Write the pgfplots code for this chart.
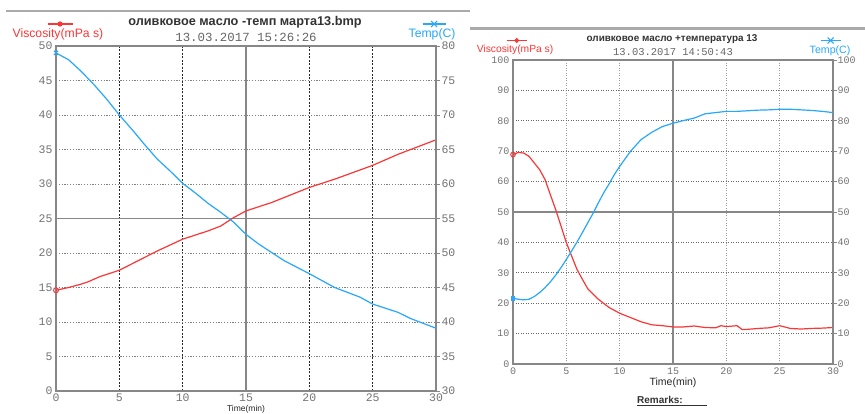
\documentclass[border=0pt]{standalone}
\usepackage{fontspec}
\setmainfont{Liberation Sans}
\setmonofont{Liberation Mono}
\usepackage{pgfplots}
\pgfplotsset{compat=1.18}
\definecolor{vred}{RGB}{250,55,55}
\definecolor{tblue}{RGB}{40,168,250}
\definecolor{axgray}{RGB}{135,135,135}
\definecolor{lblgray}{RGB}{115,115,115}
\definecolor{bargray}{RGB}{170,170,170}
\pgfplotsset{
  base/.style={scale only axis, anchor=south west, xmin=0, xmax=30,
    axis line style={axgray, line width=1.2pt},
    /pgf/number format/assume math mode=true,
    major tick length=0pt,
    legend style={draw=none, fill=none, inner sep=0pt, anchor=center,
      /tikz/every even column/.style={column sep=0pt},
      nodes={inner sep=0pt}},
  },
}
\begin{document}
\begin{tikzpicture}
\useasboundingbox (0pt,0pt) rectangle (865pt,414pt);
\clip (0pt,0pt) rectangle (865pt,414pt);
\fill[white] (0pt,0pt) rectangle (865pt,414pt);
% gray header bars
\fill[bargray] (6pt,401.5pt) rectangle (470pt,404pt);
\fill[bargray] (470pt,384pt) rectangle (865pt,386.5pt);

% ===== LEFT PANEL =====
\begin{axis}[base, at={(56pt,23pt)}, width=380pt, height=345pt,
  ymin=0, ymax=50, xtick={0,5,...,30}, ytick={0,5,...,50},
  xtick pos=bottom, ytick pos=left,
  tick label style={font=\ttfamily\fontsize{11.5}{12}\selectfont, text=lblgray},
  xticklabel style={yshift=1pt},
  grid=major,
  x grid style={black!85, dash pattern=on 2pt off 1.5pt, line width=0.6pt},
  y grid style={gray, dash pattern=on 1.2pt off 1.6pt, line width=0.9pt},
  extra x ticks={15}, extra x tick labels={},
  extra x tick style={x grid style={solid, axgray, line width=1.3pt}},
  extra y ticks={25}, extra y tick labels={},
  extra y tick style={y grid style={solid, axgray, line width=1.3pt}},
  legend style={at={(0.005,1.0348)}, font=\fontsize{12.2}{12}\selectfont},
  legend image code/.code={\path[draw=none,fill=none] (0pt,0pt) -- (0.1pt,0pt);
    \draw[overlay, vred, line width=1.2pt] (35pt,10pt) -- (60pt,10pt);
    \fill[overlay, vred] (47.5pt,10pt) circle (2pt);},
]
\addplot[vred, line width=1.2pt, mark=o, mark indices={1}, mark size=2.5pt,
  mark options={line width=1pt}] coordinates {
 (0,14.6)(1,15.0)(2,15.5)(2.5,15.8)(3.5,16.6)(5,17.5)(6.5,18.9)(8,20.3)
 (10,22.0)(12,23.2)(13,23.9)(14,25.1)(15,26.1)(17,27.3)(20,29.5)(22,30.7)
 (25,32.7)(27,34.3)(30,36.4)};
\addlegendentry{\textcolor{vred}{Viscosity(mPa s)}}
\end{axis}
\begin{axis}[base, at={(56pt,23pt)}, width=380pt, height=345pt,
  ymin=30, ymax=80, ytick={30,35,...,80},
  axis x line=none, axis y line*=right,
  major tick length=4pt, tick align=outside,
  tick style={axgray, line width=0.8pt},
  tick label style={font=\ttfamily\fontsize{11.5}{12}\selectfont, text=lblgray},
  yticklabel style={xshift=-2pt},
  legend style={at={(0.9895,1.0348)}, font=\fontsize{12.2}{12}\selectfont},
  legend image code/.code={\path[draw=none,fill=none] (0pt,0pt) -- (0.1pt,0pt);
    \draw[overlay, tblue, line width=1.2pt] (14pt,10pt) -- (37pt,10pt);
    \draw[overlay, tblue, line width=1pt] (22.5pt,7pt) -- (28.5pt,13pt) (22.5pt,13pt) -- (28.5pt,7pt);},
]
\addplot[tblue, line width=1.2pt, mark=x, mark indices={1}, mark size=3pt,
  mark options={line width=1pt}] coordinates {
 (0,79)(1,78)(2,76.3)(3,74.4)(4,72.3)(5,70)(6,67.9)(7,65.7)(8,63.6)(9,61.9)
 (10,60.1)(11,58.7)(12,57.2)(13,55.9)(14,54.5)(15,52.7)(16,51.3)(17,50.1)
 (18,48.9)(20,47)(22,45)(24,43.6)(25,42.6)(27,41.4)(28,40.5)(30,39.1)};
\addlegendentry{\textcolor{tblue}{Temp(C)}}
\end{axis}
\node[font=\bfseries\fontsize{12.7}{12}\selectfont, text=black!80] at (245pt,392pt) {оливковое масло -темп марта13.bmp};
\node[font=\ttfamily\fontsize{12.4}{12}\selectfont, text=black!60] at (246pt,377pt) {13.03.2017 15:26:26};
\node[font=\fontsize{8.5}{9}\selectfont, text=black!85, anchor=south, inner sep=0pt] at (246pt,0.8pt) {Time(min)};

% ===== RIGHT PANEL =====
\begin{axis}[base, at={(513pt,50pt)}, width=320pt, height=304pt,
  ymin=0, ymax=100, xtick={0,5,...,30}, ytick={0,10,...,100},
  xtick pos=bottom, ytick pos=left,
  tick label style={font=\ttfamily\fontsize{10}{10}\selectfont, text=lblgray},
  grid=major,
  x grid style={gray!80, dash pattern=on 1pt off 1.5pt, line width=0.8pt},
  y grid style={black!60, dash pattern=on 1pt off 1.5pt, line width=0.8pt},
  extra x ticks={15}, extra x tick labels={},
  extra x tick style={x grid style={solid, axgray, line width=1.3pt}},
  extra y ticks={50}, extra y tick labels={},
  extra y tick style={y grid style={solid, axgray, line width=1.3pt}},
  legend style={at={(0.00625,1.0329)}, font=\fontsize{10.3}{10}\selectfont},
  legend image code/.code={\path[draw=none,fill=none] (0pt,0pt) -- (0.1pt,0pt);
    \draw[overlay, vred, line width=1.2pt] (30pt,9.5pt) -- (50pt,9.5pt);
    \fill[overlay, vred] (40pt,9.5pt) circle (1.8pt);},
]
\addplot[vred, line width=1.2pt, mark=o, mark indices={1}, mark size=2.3pt,
  mark options={line width=1pt}] coordinates {
 (0,68.9)(0.5,69.6)(1,69.4)(1.5,68.3)(2,66.1)(2.5,63.9)(3,60.7)(3.5,55.7)
 (4,50.8)(4.5,45.4)(5,39.9)(5.5,35.5)(6,31.1)(6.5,27.9)(7,24.8)(8,21.3)
 (9,18.6)(10,16.7)(11,15.3)(12,13.9)(13,12.9)(14,12.6)(15,12.2)(16,12.2)
 (17,12.5)(18,12.0)(19,11.9)(19.5,12.6)(20,12.3)(21,12.6)(21.5,11.3)(22,11.4)
 (23,11.7)(24,11.9)(25,12.6)(26,11.7)(27,11.5)(28,11.7)(29,11.8)(30,12.0)};
\addlegendentry{\textcolor{vred}{Viscosity(mPa s)}}
\end{axis}
\begin{axis}[base, at={(513pt,50pt)}, width=320pt, height=304pt,
  ymin=0, ymax=100, ytick={0,10,...,100},
  axis x line=none, axis y line*=right,
  major tick length=4pt, tick align=outside,
  tick style={axgray, line width=0.8pt},
  tick label style={font=\ttfamily\fontsize{10}{10}\selectfont, text=lblgray},
  yticklabel style={xshift=-3pt},
  legend style={at={(0.9906,1.0329)}, font=\fontsize{10.6}{10}\selectfont},
  legend image code/.code={\path[draw=none,fill=none] (0pt,0pt) -- (0.1pt,0pt);
    \draw[overlay, tblue, line width=1.2pt] (11pt,9.5pt) -- (31pt,9.5pt);
    \draw[overlay, tblue, line width=1pt] (18pt,6.5pt) -- (24pt,12.5pt) (18pt,12.5pt) -- (24pt,6.5pt);},
]
\addplot[tblue, line width=1.2pt, mark=square*, mark indices={1}, mark size=1.8pt] coordinates {
 (0,21.6)(0.5,21.3)(1,21.1)(1.5,21.3)(2,22.2)(2.5,23.5)(3,25.1)(3.5,27.0)
 (4,29.2)(4.5,31.7)(5,34.4)(5.5,37.2)(6,40.1)(6.5,43.2)(7,46.4)(7.5,49.5)
 (8,53.0)(8.5,56.3)(9,59.2)(9.5,62.3)(10,65.0)(11,69.9)(12,73.8)(13,76.2)
 (14,78.1)(15,79.2)(16,80.1)(17,80.9)(18,82.3)(19,82.7)(20,83.1)(21,83.1)
 (22,83.3)(23,83.5)(24,83.6)(25,83.8)(26,83.8)(27,83.6)(28,83.4)(29,83.1)(30,82.7)};
\addlegendentry{\textcolor{tblue}{Temp(C)}}
\end{axis}
\node[font=\bfseries\fontsize{9.9}{10}\selectfont, text=black!80] at (672pt,375pt) {оливковое масло +температура 13};
\node[font=\ttfamily\fontsize{10.5}{10}\selectfont, text=black!60] at (673pt,362pt) {13.03.2017 14:50:43};
\node[font=\fontsize{10.5}{10}\selectfont, text=black!85] at (673pt,31pt) {Time(min)};
\node[font=\bfseries\fontsize{10}{10}\selectfont, text=black!80, anchor=west, inner sep=0pt] at (637pt,13pt) {\underline{Remarks:\hspace{24pt}}};
\end{tikzpicture}
\end{document}
